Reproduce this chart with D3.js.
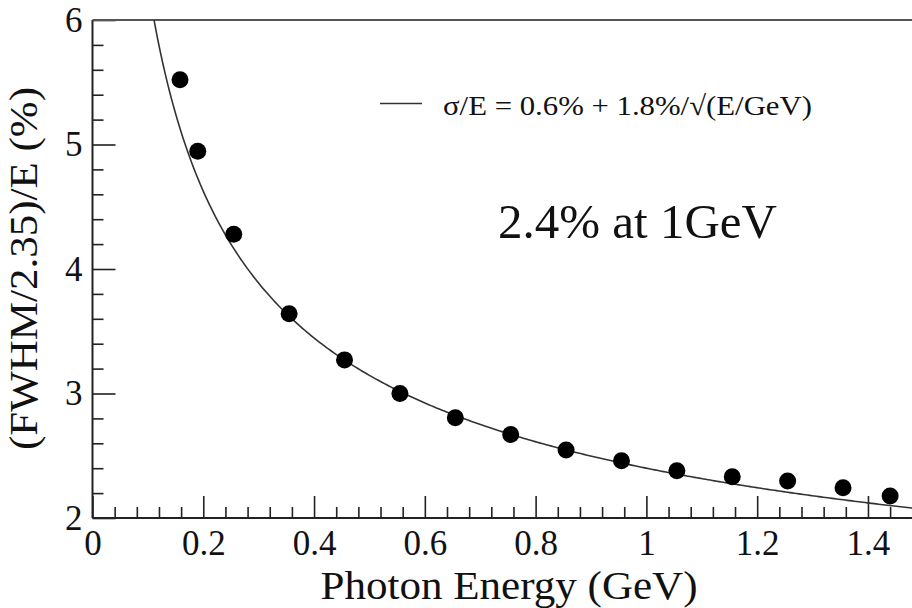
<!DOCTYPE html>
<html>
<head>
<meta charset="utf-8">
<script src="https://cdn.jsdelivr.net/npm/d3@7"></script>
<style>
  html, body { margin: 0; padding: 0; background: #fff; }
  svg { display: block; }
  text { font-family: "Times New Roman", Times, "Liberation Serif", serif; fill: #111; }
</style>
</head>
<body>
<svg id="chart" width="912" height="608"></svg>
<script>
// ---- data ----
const energies = [0.158, 0.19, 0.255, 0.355, 0.455, 0.555, 0.655, 0.755, 0.855, 0.955, 1.055, 1.155, 1.255, 1.355, 1.44];
const resolution = [5.52, 4.945, 4.28, 3.64, 3.27, 3.0, 2.805, 2.67, 2.546, 2.46, 2.38, 2.332, 2.297, 2.243, 2.177];
const xMajorTicks = [0, 0.2, 0.4, 0.6, 0.8, 1.0, 1.2, 1.4];
const xTickLabels = ["0", "0.2", "0.4", "0.6", "0.8", "1", "1.2", "1.4"];
const yMajorTicks = [2, 3, 4, 5, 6];
const yTickLabels = ["2", "3", "4", "5", "6"];
// fit parameters given in the legend: sigma/E = a + b/sqrt(E)
const fitConstantTerm = 0.6;
const fitStochasticTerm = 1.8;
const legendText = "σ/E = 0.6% + 1.8%/√(E/GeV)";
const annotationText = "2.4% at 1GeV";
const xTitle = "Photon Energy (GeV)";
const yTitle = "(FWHM/2.35)/E (%)";

// ---- layout ----
const serif = '"Times New Roman", Times, "Liberation Serif", serif';
const svg = d3.select("#chart");
const plotLeft = 92.5, plotTop = 20, plotBottom = 518;
const x = d3.scaleLinear().domain([0, 1.5]).range([plotLeft, plotLeft + 1.5 * 553.9]);
const y = d3.scaleLinear().domain([2, 6]).range([plotBottom, plotTop]);

svg.append("clipPath").attr("id", "plotclip")
  .append("rect").attr("x", plotLeft).attr("y", plotTop)
  .attr("width", 912 - plotLeft).attr("height", plotBottom - plotTop);

// minor ticks
const xMinor = d3.range(0, 1.5001, 0.04).filter(v => !xMajorTicks.some(m => Math.abs(m - v) < 1e-6));
const yMinor = d3.range(2, 6.0001, 0.2).filter(v => !yMajorTicks.some(m => Math.abs(m - v) < 1e-6));

const gxMinor = svg.append("g").attr("transform", `translate(0,${plotBottom})`)
  .call(d3.axisBottom(x).tickValues(xMinor).tickSize(-11).tickFormat(""));
const gx = svg.append("g").attr("transform", `translate(0,${plotBottom})`)
  .call(d3.axisBottom(x).tickValues(xMajorTicks).tickSize(-22).tickPadding(12)
    .tickFormat((d, i) => xTickLabels[i]));
const gyMinor = svg.append("g").attr("transform", `translate(${plotLeft},0)`)
  .call(d3.axisLeft(y).tickValues(yMinor).tickSize(-11).tickFormat(""));
const gy = svg.append("g").attr("transform", `translate(${plotLeft},0)`)
  .call(d3.axisLeft(y).tickValues(yMajorTicks).tickSize(-23).tickPadding(10)
    .tickFormat((d, i) => yTickLabels[i]));

[gxMinor, gx, gyMinor, gy].forEach(g => {
  g.attr("font-family", serif);
  g.select(".domain").remove();
  g.selectAll("line").attr("stroke", "#222").attr("stroke-width", 1.6);
  g.selectAll("text").attr("font-size", 35).attr("fill", "#111")
    .style("font-family", serif);
});

// frame lines
svg.append("line").attr("x1", plotLeft).attr("x2", 912).attr("y1", plotBottom).attr("y2", plotBottom)
  .attr("stroke", "#222").attr("stroke-width", 2);
svg.append("line").attr("x1", plotLeft).attr("x2", plotLeft).attr("y1", plotTop).attr("y2", plotBottom)
  .attr("stroke", "#222").attr("stroke-width", 2);
svg.append("line").attr("x1", plotLeft).attr("x2", 912).attr("y1", plotTop).attr("y2", plotTop)
  .attr("stroke", "#555").attr("stroke-width", 2);

// fit curve
const eStart = Math.pow(fitStochasticTerm / (6 - fitConstantTerm), 2);
const fitPts = d3.range(eStart, 1.5, 0.004).map(e => [e, fitConstantTerm + fitStochasticTerm / Math.sqrt(e)]);
svg.append("path").datum(fitPts)
  .attr("clip-path", "url(#plotclip)")
  .attr("fill", "none").attr("stroke", "#333").attr("stroke-width", 1.6)
  .attr("d", d3.line().x(d => x(d[0])).y(d => y(d[1])));

// data points
svg.append("g").selectAll("circle").data(energies).join("circle")
  .attr("cx", d => x(d)).attr("cy", (d, i) => y(resolution[i]))
  .attr("r", 8.5).attr("fill", "#000");

// legend
svg.append("line").attr("x1", 380).attr("x2", 422).attr("y1", 103.5).attr("y2", 103.5)
  .attr("stroke", "#333").attr("stroke-width", 1.6);
svg.append("text").attr("x", 443).attr("y", 115).attr("font-size", 28)
  .attr("textLength", 369).attr("lengthAdjust", "spacingAndGlyphs").text(legendText);

// annotation
svg.append("text").attr("x", 498).attr("y", 238).attr("font-size", 49)
  .attr("textLength", 279).attr("lengthAdjust", "spacingAndGlyphs").text(annotationText);

// axis titles
svg.append("text").attr("x", 509).attr("y", 599).attr("font-size", 40)
  .attr("text-anchor", "middle")
  .attr("textLength", 377).attr("lengthAdjust", "spacingAndGlyphs").text(xTitle);
svg.append("text").attr("transform", "translate(37,268.5) rotate(-90)")
  .attr("font-size", 41).attr("text-anchor", "middle")
  .attr("textLength", 363).attr("lengthAdjust", "spacingAndGlyphs").text(yTitle);
</script>
</body>
</html>
